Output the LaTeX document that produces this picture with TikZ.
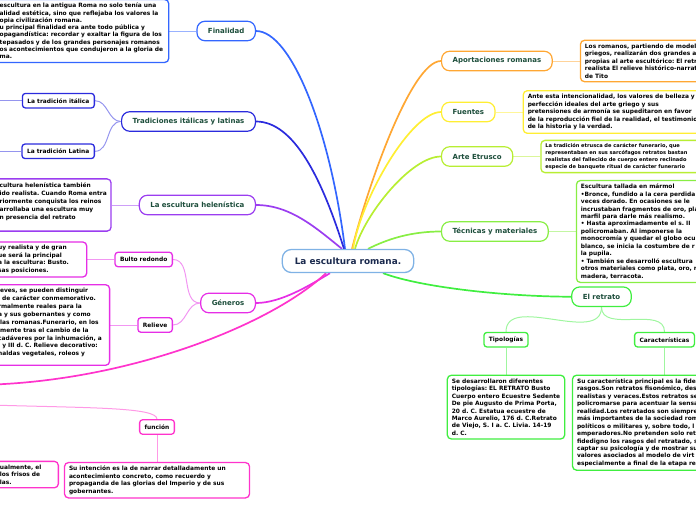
\documentclass[tikz,border=0pt]{standalone}
\usepackage{fontspec}
\setmainfont{DejaVu Sans}
\usetikzlibrary{positioning,backgrounds}

\definecolor{roottext}{HTML}{1B2A4E}
\definecolor{rootline}{HTML}{7FB2E5}
\definecolor{topictext}{HTML}{1D4E3B}
\definecolor{cFin}{HTML}{3366FF}
\definecolor{cTrad}{HTML}{2B2BDD}
\definecolor{cHel}{HTML}{9B3DF0}
\definecolor{cGen}{HTML}{E62EE6}
\definecolor{cFun}{HTML}{FF33CC}
\definecolor{cApo}{HTML}{FFA733}
\definecolor{cFue}{HTML}{FFEE33}
\definecolor{cEtr}{HTML}{B8EE33}
\definecolor{cTec}{HTML}{88EE44}
\definecolor{cRet}{HTML}{40EE40}

\begin{document}
\begin{tikzpicture}[x=1pt,y=1pt,
  root/.style={draw=rootline,line width=1.3pt,rounded corners=9pt,fill=white,
               text=roottext,font=\fontsize{8.9}{10}\selectfont\bfseries,
               minimum height=23pt,inner xsep=12.5pt},
  topic/.style={draw=#1,line width=1.2pt,rounded corners=8pt,fill=white,
                text=topictext,font=\fontsize{7}{8}\selectfont\bfseries,
                minimum height=19.5pt,inner xsep=11pt},
  leaf/.style={draw=#1,line width=1.3pt,rounded corners=3pt,fill=white,
               font=\fontsize{5.9}{7}\selectfont\bfseries,
               minimum height=14.5pt,inner xsep=5pt},
  note/.style={draw=#1,line width=1.3pt,rounded corners=4pt,fill=white,
               align=left,font=\fontsize{5.9}{7.45}\selectfont\bfseries,
               inner xsep=4.5pt,inner ysep=3.5pt,
               execute at begin node={\frenchspacing\hyphenpenalty=10000\exhyphenpenalty=10000}},
  link/.style={line width=1.7pt,draw=#1},
  twig/.style={line width=1pt,draw=#1!50}
]
\useasboundingbox (0,0) rectangle (696,-520);
\clip (0,0) rectangle (696,-520);

\node[root] (root) at (348,-261) {La escultura romana.};

\node[topic=cFin,anchor=east] (fin) at (256,-31) {Finalidad};
\node[topic=cTrad,anchor=east] (trad) at (256,-121.5) {Tradiciones itálicas y latinas};
\node[topic=cHel,anchor=east] (hel) at (256,-205) {La escultura helenística};
\node[topic=cGen,anchor=east] (gen) at (256,-303) {Géneros};

\node[topic=cApo,anchor=west] (apo) at (441,-61) {Aportaciones romanas};
\node[topic=cFue,anchor=west] (fue) at (441,-112) {Fuentes};
\node[topic=cEtr,anchor=west] (etr) at (441,-156.5) {Arte Etrusco};
\node[topic=cTec,anchor=west] (tec) at (441,-231.5) {Técnicas y materiales};
\node[topic=cRet] (ret) at (601.5,-296.7) {El retrato};

\node[leaf=cTrad,anchor=east] (ital) at (95,-100.7) {La tradición itálica};
\node[leaf=cTrad,anchor=east] (lat) at (95,-151.3) {La tradición Latina};
\node[leaf=cGen,anchor=east] (bulto) at (173,-259.5) {Bulto redondo};
\node[leaf=cGen,anchor=east] (relieve) at (173,-325) {Relieve};
\node[leaf=cFun] (fun) at (157,-427) {función};
\node[leaf=cRet] (tipo) at (506,-339.7) {Tipologías};
\node[leaf=cRet] (car) at (664.5,-339.7) {Características};

\coordinate (italoff) at (-10,-100.7);
\coordinate (latoff) at (-10,-151.3);
\coordinate (relieveoff) at (-30,-385);
\coordinate (funoff) at (-10,-405);

\node[note=cFin,left=27pt of fin,text width=181pt,font=\fontsize{5.9}{7.3}\selectfont\bfseries] (finnote)
  {\leftskip=16.5pt\rightskip=-8pt plus 1fil escultura en la antigua Roma no solo tenía una\\
   alidad estética, sino que reflejaba los valores la\\
   opia civilización romana.\\
   u principal finalidad era ante todo pública y\\
   opagandística: recordar y exaltar la figura de los\\
   tepasados y de los grandes personajes romanos\\
   os acontecimientos que condujeron a la gloria de\\
   ma.\par};
\node[note=cHel,left=27pt of hel,text width=123pt,font=\fontsize{5.9}{8.1}\selectfont\bfseries] (helnote)
  {\leftskip=16pt\rightskip=-8pt plus 1fil cultura helenística también\\
   ido realista. Cuando Roma entra\\
   riormente conquista los reinos\\
   arrollaba una escultura muy\\
   n presencia del retrato\\ \mbox{}\par};
\node[note=cGen,left=27pt of bulto,text width=100pt] (bultonote)
  {\leftskip=16pt\rightskip=-8pt plus 1fil uy realista y de gran\\
   ue será la principal\\
   a la escultura: Busto.\\
   sas posiciones.\par};
\node[note=cGen,left=27pt of relieve,text width=123pt,font=\fontsize{5.9}{7.9}\selectfont\bfseries] (relievenote)
  {\leftskip=16pt\rightskip=-8pt plus 1fil lieves, se pueden distinguir\\
   \hspace*{4pt}de carácter conmemorativo.\\
   rmalmente reales para la\\
   a y sus gobernantes y como\\
   llas romanas.Funerario, en los\\
   lmente tras el cambio de la\\
   cadáveres por la inhumación, a\\
   I y III d. C. Relieve decorativo:\\
   naldas vegetales, roleos y\\[-2pt] \mbox{}\par};
\node[note=cFun,anchor=north east,text width=70pt] (othernote) at (59,-460.7)
  {\leftskip=16pt\rightskip=-8pt plus 1fil ualmente, el\\
   los frisos de\\
   las.\par};
\node[note=cFun,below=27pt of fun,text width=176pt] (funnote)
  {Su intención es la de narrar detalladamente un\\
   acontecimiento concreto, como recuerdo y\\
   propaganda de las glorias del Imperio y de sus\\
   gobernantes.};

\node[note=cApo,right=27pt of apo,text width=160pt] (aponote)
  {Los romanos, partiendo de model\\
   griegos, realizarán dos grandes a\\
   propias al arte escultórico: El retr\\
   realista El relieve histórico-narrat\\
   de Tito};
\node[note=cFue,right=27pt of fue,text width=200pt] (fuenote)
  {Ante esta intencionalidad, los valores de belleza y\\
   perfección ideales del arte griego y sus\\
   pretensiones de armonía se supeditaron en favor\\
   de la reproducción fiel de la realidad, el testimonio\\
   de la historia y la verdad.};
\node[note=cEtr,right=27pt of etr,text width=175pt,font=\fontsize{5.1}{6.7}\selectfont\bfseries] (etrnote)
  {La tradición etrusca de carácter funerario, que\\
   representaban en sus sarcófagos retratos bastan\\
   realistas del fallecido de cuerpo entero reclinado\\
   especie de banquete ritual de carácter funerario};
\node[note=cTec,right=27pt of tec,text width=160pt] (tecnote)
  {Escultura tallada en mármol\\
   •Bronce, fundido a la cera perdida\\
   veces dorado. En ocasiones se le\\
   incrustaban fragmentos de oro, pla\\
   marfil para darle más realismo.\\
   • Hasta aproximadamente el s. II\\
   policromaban. Al imponerse la\\
   monocromía y quedar el globo ocu\\
   blanco, se inicia la costumbre de r\\
   la pupila.\\
   • También se desarrolló escultura\\
   otros materiales como plata, oro, r\\
   madera, terracota.};
\node[note=cRet,below=27pt of tipo] (tiponote)
  {Se desarrollaron diferentes\\
   tipologías: EL RETRATO Busto\\
   Cuerpo entero Ecuestre Sedente\\
   De pie Augusto de Prima Porta,\\
   20 d. C. Estatua ecuestre de\\
   Marco Aurelio, 176 d. C.Retrato\\
   de Viejo, S. I a. C. Livia. 14-19\\
   d. C.};
\node[note=cRet,below=27pt of car,text width=175pt] (carnote)
  {Su característica principal es la fide\\
   rasgos.Son retratos fisonómico, des\\
   realistas y veraces.Estos retratos se\\
   policromarse para acentuar la sensa\\
   realidad.Los retratados son siempre\\
   más importantes de la sociedad rom\\
   políticos o militares y, sobre todo, l\\
   emperadores.No pretenden solo ret\\
   fidedigno los rasgos del retratado, s\\
   captar su psicología y de mostrar su\\
   valores asociados al modelo de virt\\
   especialmente a final de la etapa re};

\begin{scope}[on background layer]
\draw[link=cFin] ([xshift=-3pt]root.north) .. controls +(-15,120) and +(35,0) .. (fin.east);
\draw[link=cTrad] ([xshift=-4pt]root.north) .. controls +(-22,70) and +(38,0) .. (trad.east);
\draw[link=cHel] ([xshift=-6pt]root.north) .. controls +(-25,20) and +(35,0) .. (hel.east);
\draw[link=cGen] ([xshift=-18pt]root.south) .. controls +(-20,-12) and +(25,0) .. (gen.east);
\draw[link=cFun] ([xshift=-22pt]root.south) .. controls +(-56,-53) and +(150,0) .. (relieveoff);
\draw[link=cApo] ([xshift=4pt]root.north) .. controls +(15,60) and +(-30,0) .. (apo.west);
\draw[link=cFue] ([xshift=5pt]root.north) .. controls +(8,50) and +(-30,0) .. (fue.west);
\draw[link=cEtr] ([xshift=7pt]root.north) .. controls +(10,35) and +(-30,0) .. (etr.west);
\draw[link=cTec] ([xshift=20pt]root.north) .. controls +(20,10) and +(-30,0) .. (tec.west);
\draw[link=cRet] ([xshift=35pt]root.south) .. controls +(40,-15) and +(-60,0) .. (ret.west);

\draw[twig=cFin] (fin.west) -- (finnote.east);
\draw[twig=cTrad] (trad.west) to[out=180,in=0] (ital.east);
\draw[twig=cTrad] (trad.west) to[out=180,in=0] (lat.east);
\draw[twig=cTrad] (ital.west) -- (italoff);
\draw[twig=cTrad] (lat.west) -- (latoff);
\draw[twig=cHel] (hel.west) -- (helnote.east);
\draw[twig=cGen] (gen.west) to[out=180,in=0] (bulto.east);
\draw[twig=cGen] (gen.west) to[out=180,in=0] (relieve.east);
\draw[twig=cGen] (bulto.west) -- (bultonote.east);
\draw[twig=cGen] (relieve.west) -- (relievenote.east);
\draw[twig=cFun] (funoff) .. controls +(100,-3) and +(0,12) .. (fun.north);
\draw[twig=cFun] (fun.south) -- (funnote.north);
\draw[twig=cApo] (apo.east) -- (aponote.west);
\draw[twig=cFue] (fue.east) -- (fuenote.west);
\draw[twig=cEtr] (etr.east) -- (etrnote.west);
\draw[twig=cTec] (tec.east) -- (tecnote.west);
\draw[twig=cRet] (ret.south) to[out=-90,in=90] (tipo.north);
\draw[twig=cRet] (ret.south) to[out=-90,in=90] (car.north);
\draw[twig=cRet] (tipo.south) -- (tiponote.north);
\draw[twig=cRet] (car.south) -- (carnote.north);
\end{scope}
\end{tikzpicture}
\end{document}
